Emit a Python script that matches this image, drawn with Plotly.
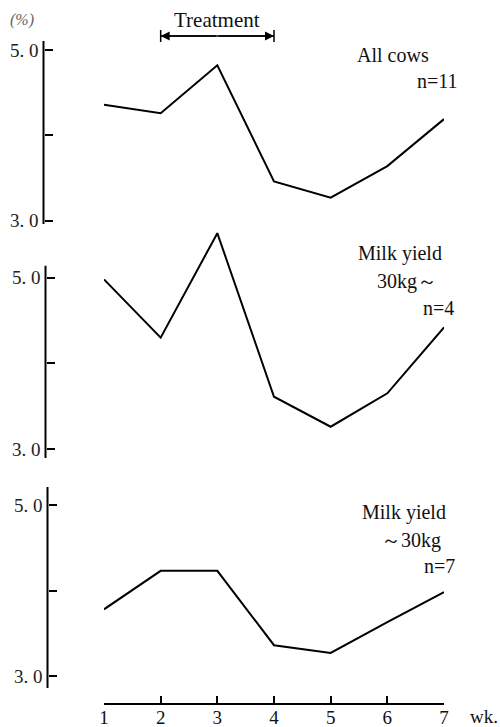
import plotly.graph_objects as go

# ---- data ----
weeks = [1, 2, 3, 4, 5, 6, 7]
all_cows = [4.36, 4.26, 4.82, 3.46, 3.27, 3.64, 4.19]
high_yield = [4.98, 4.30, 5.52, 3.61, 3.26, 3.65, 4.42]
low_yield = [3.78, 4.23, 4.23, 3.36, 3.27, 3.63, 3.98]
ytick_vals = [3, 4, 5]
ytick_text = ["3. 0", "", "5. 0"]
panel_labels = [
    ["All cows", "n=11"],
    ["Milk yield", "30kg～", "n=4"],
    ["Milk yield", "～30kg", "n=7"],
]

W, H = 500, 727
FONT = "Liberation Serif, DejaVu Serif, serif"

# layout geometry (pixel positions of 5.0 and 3.0 in each panel)
panels = [
    dict(p5=50.0, p3=220.7, rng=[2.95, 5.12], line=[2.96, 5.105], xpos=43.5),
    dict(p5=277.7, p3=449.0, rng=[2.85, 5.58], line=[2.895, 5.14], xpos=45.5),
    dict(p5=505.0, p3=676.0, rng=[2.83, 5.25], line=[2.86, 5.21], xpos=47.5),
]


def px(p, v):
    return p["p3"] - (v - 3) * (p["p3"] - p["p5"]) / 2


def py(pix):
    return 1 - pix / H


series = [all_cows, high_yield, low_yield]
fig = go.Figure()
shapes = []
annotations = []
layout = {}
for i, (p, vals) in enumerate(zip(panels, series)):
    yname = "y" if i == 0 else f"y{i+1}"
    lname = "yaxis" if i == 0 else f"yaxis{i+1}"
    fig.add_trace(go.Scatter(x=weeks, y=vals, mode="lines", xaxis="x", yaxis=yname,
                             line=dict(color="black", width=2), showlegend=False,
                             hoverinfo="skip"))
    lo, hi = p["rng"]
    layout[lname] = dict(
        domain=[py(px(p, lo)), py(px(p, hi))], range=[lo, hi],
        anchor="free", position=p["xpos"] / W, side="left",
        showgrid=False, zeroline=False, showline=False,
        ticks="inside", ticklen=8, tickwidth=2, tickcolor="black",
        tickvals=ytick_vals, ticktext=ytick_text, ticklabelstandoff=5,
        tickfont=dict(family=FONT, size=19, color="#222"),
    )
    # visible axis line
    shapes.append(dict(type="line", xref="paper", yref=yname,
                       x0=p["xpos"] / W, x1=p["xpos"] / W,
                       y0=p["line"][0], y1=p["line"][1],
                       line=dict(color="black", width=2)))

# panel labels
lab_pos = [
    [(393, 55, "center"), (460, 81, "right")],
    [(400, 253, "center"), (407, 281, "center"), (456, 308, "right")],
    [(404, 512, "center"), (411, 540, "center"), (457, 566, "right")],
]
for texts, poss in zip(panel_labels, lab_pos):
    for t, (x, y, anc) in zip(texts, poss):
        annotations.append(dict(text=t, x=x / W, y=py(y), xref="paper", yref="paper",
                                xanchor=anc, yanchor="middle", showarrow=False,
                                font=dict(family=FONT, size=20, color="#111")))

# x-axis at bottom
layout["xaxis"] = dict(
    domain=[104 / W, 444 / W], range=[1, 7], anchor="free", position=py(704),
    showgrid=False, zeroline=False, showline=True, linecolor="black", linewidth=2,
    ticks="inside", ticklen=7, tickwidth=2, tickcolor="black",
    tickvals=weeks, ticktext=[str(w) for w in weeks], ticklabelstandoff=-4,
    tickfont=dict(family=FONT, size=19, color="#111"),
)
annotations.append(dict(text="wk.", x=484 / W, y=py(716), xref="paper", yref="paper",
                        xanchor="center", yanchor="middle", showarrow=False,
                        font=dict(family=FONT, size=19, color="#111")))
annotations.append(dict(text="(%)", x=22 / W, y=py(20), xref="paper", yref="paper",
                        xanchor="center", yanchor="middle", showarrow=False,
                        font=dict(family=FONT, size=16, color="#666", style="italic")))

# Treatment arrow (weeks 2 to 4)
yarr = py(36)
shapes.append(dict(type="line", xref="x", yref="paper", x0=2, x1=4, y0=yarr, y1=yarr,
                   line=dict(color="black", width=1.5)))
for end in (2, 4):
    annotations.append(dict(x=end, y=yarr, xref="x", yref="paper", ax=3, ay=0,
                            axref="x", ayref="pixel", showarrow=True, arrowhead=2,
                            arrowsize=1.2, arrowwidth=1.5, arrowcolor="black", text=""))
    shapes.append(dict(type="line", xref="x", yref="paper", x0=end, x1=end,
                       y0=py(30), y1=py(42), line=dict(color="black", width=1.5)))
annotations.append(dict(text="Treatment", x=3, y=py(20), xref="x", yref="paper",
                        xanchor="center", yanchor="middle", showarrow=False,
                        font=dict(family=FONT, size=21, color="#111")))

fig.update_layout(
    width=W, height=H, margin=dict(l=0, r=0, t=0, b=0),
    paper_bgcolor="white", plot_bgcolor="white", template="none",
    shapes=shapes, annotations=annotations, showlegend=False, **layout,
)
fig.write_html("out.html", config={"displayModeBar": False},
               post_script="document.body.style.margin='0';document.body.style.overflow='hidden';")
